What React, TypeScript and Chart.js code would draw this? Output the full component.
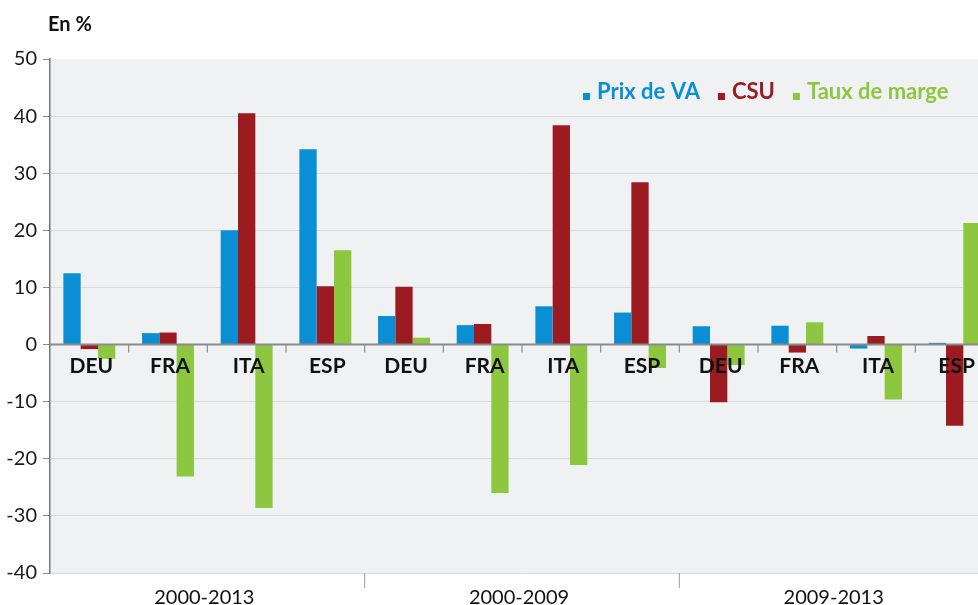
import React, { useEffect, useRef } from "react";
import { Chart, registerables } from "chart.js";

Chart.register(...registerables);

const categories = ["DEU", "FRA", "ITA", "ESP", "DEU", "FRA", "ITA", "ESP", "DEU", "FRA", "ITA", "ESP"];
const groups = ["2000-2013", "2000-2009", "2009-2013"];
const groupSize = 4;
const prixVA = [12.5, 2.0, 20.0, 34.2, 5.0, 3.4, 6.7, 5.6, 3.2, 3.3, -0.7, 0.3];
const csu = [-0.8, 2.1, 40.5, 10.2, 10.1, 3.6, 38.4, 28.4, -10.1, -1.4, 1.5, -14.2];
const tauxMarge = [-2.5, -23.1, -28.6, 16.5, 1.2, -26.0, -21.1, -4.1, -3.6, 3.9, -9.6, 21.3];
const seriesNames = ["Prix de VA", "CSU", "Taux de marge"];
const seriesColors = ["#0a8fd5", "#9b1b21", "#8dc63f"];
const yTicks = { min: -40, max: 50, step: 10 };
const unitLabel = "En %";

const FONT = "Lato, 'Open Sans', sans-serif";

const customPlugin = {
  id: "custom",
  beforeDraw(chart: any) {
    const { ctx, chartArea } = chart;
    ctx.save();
    ctx.fillStyle = "#ffffff";
    ctx.fillRect(0, 0, chart.width, chart.height);
    ctx.fillStyle = "#f0f1f3";
    ctx.fillRect(chartArea.left, chartArea.top, chartArea.right - chartArea.left, chartArea.bottom - chartArea.top);
    ctx.restore();
  },
  afterDatasetsDraw(chart: any) {
    const { ctx, chartArea } = chart;
    const x = chart.scales.x;
    const y = chart.scales.y;
    const y0 = y.getPixelForValue(0);
    const n = categories.length;
    const step = (chartArea.right - chartArea.left) / n;
    ctx.save();
    // zero line
    ctx.strokeStyle = "#8a8a8a";
    ctx.lineWidth = 2;
    ctx.beginPath();
    ctx.moveTo(chartArea.left, y0);
    ctx.lineTo(chartArea.right, y0);
    ctx.stroke();
    // ticks between categories
    ctx.lineWidth = 1.2;
    for (let i = 1; i <= n; i++) {
      const px = chartArea.left + i * step;
      ctx.beginPath();
      ctx.moveTo(px, y0);
      ctx.lineTo(px, y0 + 8);
      ctx.stroke();
    }
    // category labels
    ctx.fillStyle = "#111111";
    ctx.font = `bold 21px ${FONT}`;
    ctx.textAlign = "center";
    ctx.textBaseline = "middle";
    for (let i = 0; i < n; i++) {
      ctx.fillText(categories[i], x.getPixelForValue(i) + 2, y0 + 22);
    }
    // group separators and labels
    ctx.strokeStyle = "#9a9a9a";
    ctx.lineWidth = 1;
    for (let g = 0; g < groups.length; g++) {
      const start = chartArea.left + g * groupSize * step;
      const end = start + groupSize * step;
      if (g > 0) {
        ctx.beginPath();
        ctx.moveTo(start, chartArea.bottom);
        ctx.lineTo(start, chartArea.bottom + 15);
        ctx.stroke();
      }
      ctx.fillStyle = "#111111";
      ctx.font = `20px ${FONT}`;
      ctx.fillText(groups[g], (start + end) / 2 - 3, chartArea.bottom + 25);
    }
    // unit label
    ctx.textAlign = "left";
    ctx.font = `bold 20px ${FONT}`;
    ctx.fillText(unitLabel, 48, 25);
    // legend
    let lx = 583;
    const ly = 92;
    ctx.font = `bold 22px ${FONT}`;
    for (let s = 0; s < seriesNames.length; s++) {
      ctx.fillStyle = seriesColors[s];
      ctx.fillRect(lx, ly + 1, 7, 7);
      lx += 14;
      ctx.fillText(seriesNames[s], lx, ly);
      lx += ctx.measureText(seriesNames[s]).width + 18;
    }
    ctx.restore();
  },
};

export default function App() {
  const ref = useRef<HTMLCanvasElement | null>(null);
  useEffect(() => {
    document.body.style.margin = "0";
    if (!ref.current) return;
    const chart = new Chart(ref.current, {
      type: "bar",
      data: {
        labels: categories,
        datasets: [prixVA, csu, tauxMarge].map((d, i) => ({
          label: seriesNames[i],
          data: d,
          backgroundColor: seriesColors[i],
          borderWidth: 0,
          barPercentage: 1,
          categoryPercentage: 0.66,
        })),
      },
      options: {
        responsive: false,
        animation: false,
        layout: { padding: { top: 59, bottom: 32, left: 0, right: 0 } },
        plugins: { legend: { display: false }, tooltip: { enabled: false } },
        scales: {
          x: { display: false },
          y: {
            min: yTicks.min,
            max: yTicks.max,
            afterFit: (scale: any) => {
              scale.width = 50;
            },
            ticks: {
              stepSize: yTicks.step,
              color: "#1a1a1a",
              font: { family: FONT, size: 20 },
              padding: 6,
            },
            grid: {
              color: (c: any) => (c.tick && c.tick.value === yTicks.max ? "rgba(0,0,0,0)" : "#d9d9d9"),
              tickColor: "#8a8a8a",
              tickLength: 7,
            },
            border: { color: "#777777", width: 1.5 },
          },
        },
      },
      plugins: [customPlugin],
    });
    return () => chart.destroy();
  }, []);
  return (
    <div style={{ position: "relative", width: 978, height: 605, overflow: "hidden" }}>
      <canvas ref={ref} width={994} height={605} style={{ width: 994, height: 605, display: "block" }} />
    </div>
  );
}
